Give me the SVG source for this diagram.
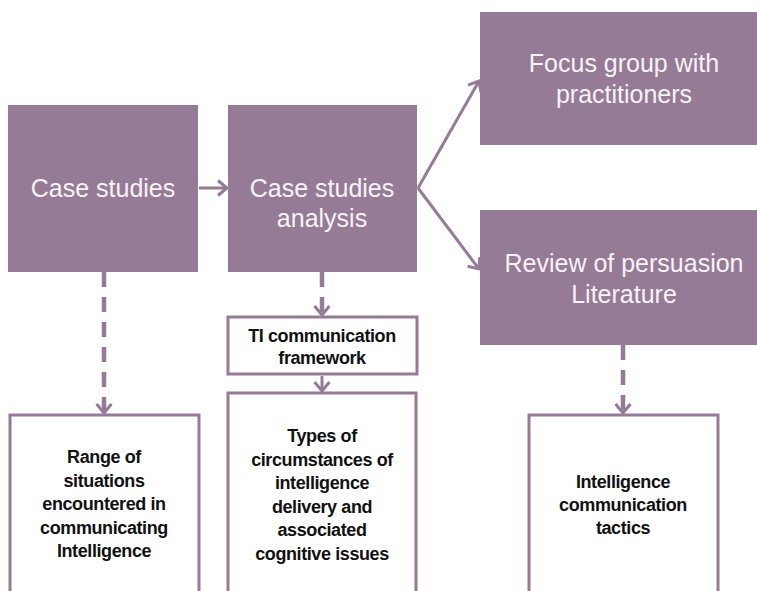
<svg xmlns="http://www.w3.org/2000/svg" width="757" height="591" viewBox="0 0 757 591">
  <style>
    .stage { fill: #957b96; }
    .stage-text { font-family: "Liberation Sans", Arial, sans-serif; font-size: 25px; fill: #f7f2f7; text-anchor: middle; }
    .out { fill: #ffffff; stroke: #957b96; stroke-width: 3; }
    .out-text { font-family: "Liberation Sans", Arial, sans-serif; font-size: 18px; font-weight: bold; fill: #111111; text-anchor: middle; letter-spacing: -0.4px; }
    .link { fill: none; stroke: #957b96; stroke-width: 3; marker-end: url(#chev); }
    .dash { fill: none; stroke: #957b96; stroke-width: 4.5; stroke-dasharray: 15 10; marker-end: url(#chev); }
  </style>
  <defs>
    <marker id="chev" viewBox="0 0 12 18" refX="10" refY="9" markerWidth="12" markerHeight="18" markerUnits="userSpaceOnUse" orient="auto">
      <path d="M1,1.5 L10,9 L1,16.5" fill="none" stroke="#957b96" stroke-width="3" stroke-dasharray="none"/>
    </marker>
  </defs>

  <rect width="757" height="591" fill="#ffffff"/>

  <!-- connectors -->
  <g id="connectors">
    <line class="link" x1="199" y1="188" x2="227" y2="188"/>
    <line class="link" x1="418" y1="188" x2="479" y2="81"/>
    <line class="link" x1="418" y1="188" x2="479" y2="269"/>
    <line class="dash" x1="104" y1="272" x2="104" y2="413"/>
    <line class="dash" x1="322" y1="272" x2="322" y2="315"/>
    <line class="link" x1="322" y1="376" x2="322" y2="391"/>
    <line class="dash" x1="623" y1="345" x2="623" y2="413"/>
  </g>

  <!-- stages -->
  <g id="case-studies">
    <rect class="stage" x="8" y="105" width="190" height="167"/>
    <text class="stage-text" x="103" y="197">Case studies</text>
  </g>
  <g id="case-studies-analysis">
    <rect class="stage" x="228" y="105" width="189" height="167"/>
    <text class="stage-text" x="322" y="197">Case studies</text>
    <text class="stage-text" x="322" y="227">analysis</text>
  </g>
  <g id="focus-group">
    <rect class="stage" x="480" y="12" width="277" height="133"/>
    <text class="stage-text" x="624" y="72">Focus group with</text>
    <text class="stage-text" x="624" y="103">practitioners</text>
  </g>
  <g id="persuasion-review">
    <rect class="stage" x="480" y="210" width="277" height="135"/>
    <text class="stage-text" x="624" y="272">Review of persuasion</text>
    <text class="stage-text" x="624" y="303">Literature</text>
  </g>

  <!-- outputs -->
  <g id="range-of-situations">
    <rect class="out" x="10" y="415" width="189" height="190"/>
    <text class="out-text" x="104" y="463">Range of</text>
    <text class="out-text" x="104" y="486.5">situations</text>
    <text class="out-text" x="104" y="510">encountered in</text>
    <text class="out-text" x="104" y="533.5">communicating</text>
    <text class="out-text" x="104" y="557">Intelligence</text>
  </g>
  <g id="ti-framework">
    <rect class="out" x="228" y="317" width="189" height="57"/>
    <text class="out-text" x="322" y="342">TI communication</text>
    <text class="out-text" x="322" y="364">framework</text>
  </g>
  <g id="types-of-circumstances">
    <rect class="out" x="228" y="393" width="188" height="212"/>
    <text class="out-text" x="322" y="442">Types of</text>
    <text class="out-text" x="322" y="465.5">circumstances of</text>
    <text class="out-text" x="322" y="489">intelligence</text>
    <text class="out-text" x="322" y="512.5">delivery and</text>
    <text class="out-text" x="322" y="536">associated</text>
    <text class="out-text" x="322" y="559.5">cognitive issues</text>
  </g>
  <g id="communication-tactics">
    <rect class="out" x="529" y="415" width="189" height="190"/>
    <text class="out-text" x="623" y="488">Intelligence</text>
    <text class="out-text" x="623" y="511">communication</text>
    <text class="out-text" x="623" y="534">tactics</text>
  </g>
</svg>
